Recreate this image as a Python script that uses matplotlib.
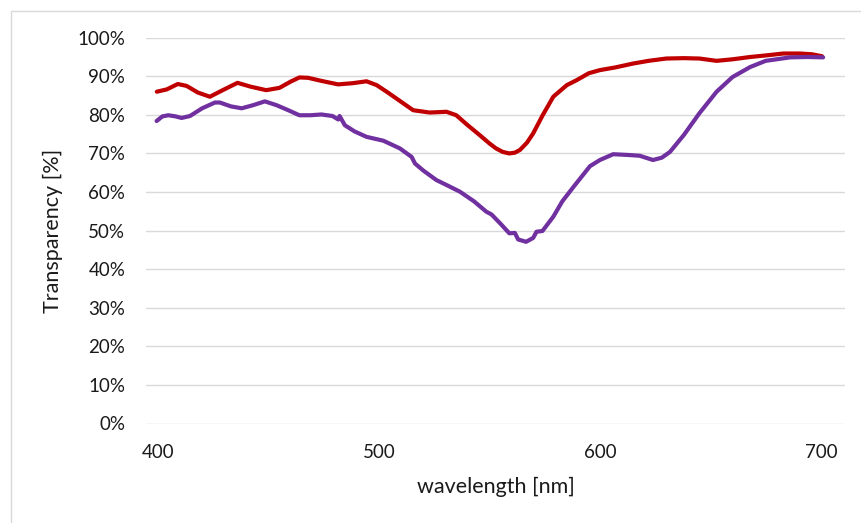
import matplotlib.pyplot as plt
from matplotlib.patches import Rectangle
from matplotlib.ticker import PercentFormatter

plt.rcParams['font.family'] = ['Lato', 'DejaVu Sans']

# Red series (wavelength nm, transparency %)
red_wl = [399.5, 404, 409, 413, 418, 423.5, 430, 436, 442, 449, 455, 460, 464, 468,
          474, 481.5, 488, 494.4, 499, 504, 509.5, 515.5, 523, 530.6, 535, 540,
          545.7, 550, 553, 556, 559, 561.5, 563.8, 567, 569.8, 574, 578.9, 585,
          589.5, 595, 600, 607, 615, 622, 630, 638, 645, 652.8, 660, 668, 675,
          683, 690.5, 696, 700.5]
red_val = [86.0, 86.6, 88.0, 87.5, 85.8, 84.7, 86.6, 88.3, 87.3, 86.4, 87.0, 88.6, 89.7, 89.6,
           88.8, 87.9, 88.2, 88.7, 87.7, 85.8, 83.6, 81.2, 80.6, 80.8, 79.9, 77.4,
           74.7, 72.6, 71.3, 70.4, 70.0, 70.2, 70.9, 72.8, 75.2, 79.8, 84.7, 87.7,
           89.0, 90.8, 91.6, 92.3, 93.3, 94.0, 94.6, 94.7, 94.6, 94.0, 94.4, 95.0, 95.4,
           95.9, 95.9, 95.7, 95.2]

# Purple series
pur_wl = [399.4, 402, 404.7, 408, 410.7, 414.5, 420, 425.8, 428, 433, 437.9, 443, 448.4,
          453.7, 459, 464, 469, 474, 479, 481.6, 482.2, 484.6, 489, 494.4, 502,
          509.5, 514.8, 516.3, 520, 526, 531, 536.6, 543, 548.6, 550.9, 555, 559,
          561.5, 563, 566.6, 569.8, 571.3, 574, 578.9, 583, 588, 595.5, 600, 606,
          612.8, 618, 624, 628, 631.7, 638, 645, 652.8, 660, 668, 675, 686, 694, 701]
pur_val = [78.4, 79.6, 79.9, 79.6, 79.2, 79.7, 81.7, 83.2, 83.2, 82.2, 81.7, 82.5, 83.5,
           82.5, 81.2, 79.9, 79.9, 80.1, 79.7, 78.8, 79.7, 77.3, 75.7, 74.3, 73.3,
           71.3, 69.1, 67.4, 65.6, 63.1, 61.7, 60.1, 57.6, 54.9, 54.2, 51.8, 49.3,
           49.4, 47.7, 47.1, 48.1, 49.7, 49.9, 53.6, 57.6, 61.3, 66.7, 68.3, 69.8,
           69.6, 69.4, 68.3, 68.9, 70.4, 74.8, 80.4, 86.0, 89.8, 92.4, 94.0, 94.9, 95.0, 94.9]

W, H = 862, 523
fig = plt.figure(figsize=(W / 100, H / 100), dpi=100)
fig.patches.append(Rectangle((11 / W, -0.1), 1.2, 1 - 11 / H + 0.1,
                             transform=fig.transFigure, fill=False,
                             edgecolor='#d9d9d9', linewidth=1))

ax = fig.add_axes([146 / W, 1 - 423.5 / H, (845 - 146) / W, (423.5 - 37.7) / H])
ax.plot(red_wl, red_val, color='#C00000', linewidth=3, solid_capstyle='round', zorder=3)
ax.plot(pur_wl, pur_val, color='#7030A0', linewidth=3, solid_capstyle='round', zorder=3)

ax.set_xlim(394.6, 710.9)
ax.set_ylim(0, 100)
ax.set_xticks([400, 500, 600, 700])
ax.set_yticks(range(0, 101, 10))
ax.yaxis.set_major_formatter(PercentFormatter(decimals=0))
ax.grid(axis='y', color='#d9d9d9', linewidth=1)
ax.set_axisbelow(True)
for s in ax.spines.values():
    s.set_visible(False)
ax.tick_params(length=0, labelsize=13.5, colors='#1a1a1a')
ax.tick_params(axis='y', pad=15)
ax.tick_params(axis='x', pad=15)

ax.set_xlabel('wavelength [nm]', fontsize=15.5, color='#1a1a1a', labelpad=11)
ax.set_ylabel('Transparency [%]', fontsize=15.5, color='#1a1a1a', labelpad=10)

fig.savefig('out.png', dpi=100)
